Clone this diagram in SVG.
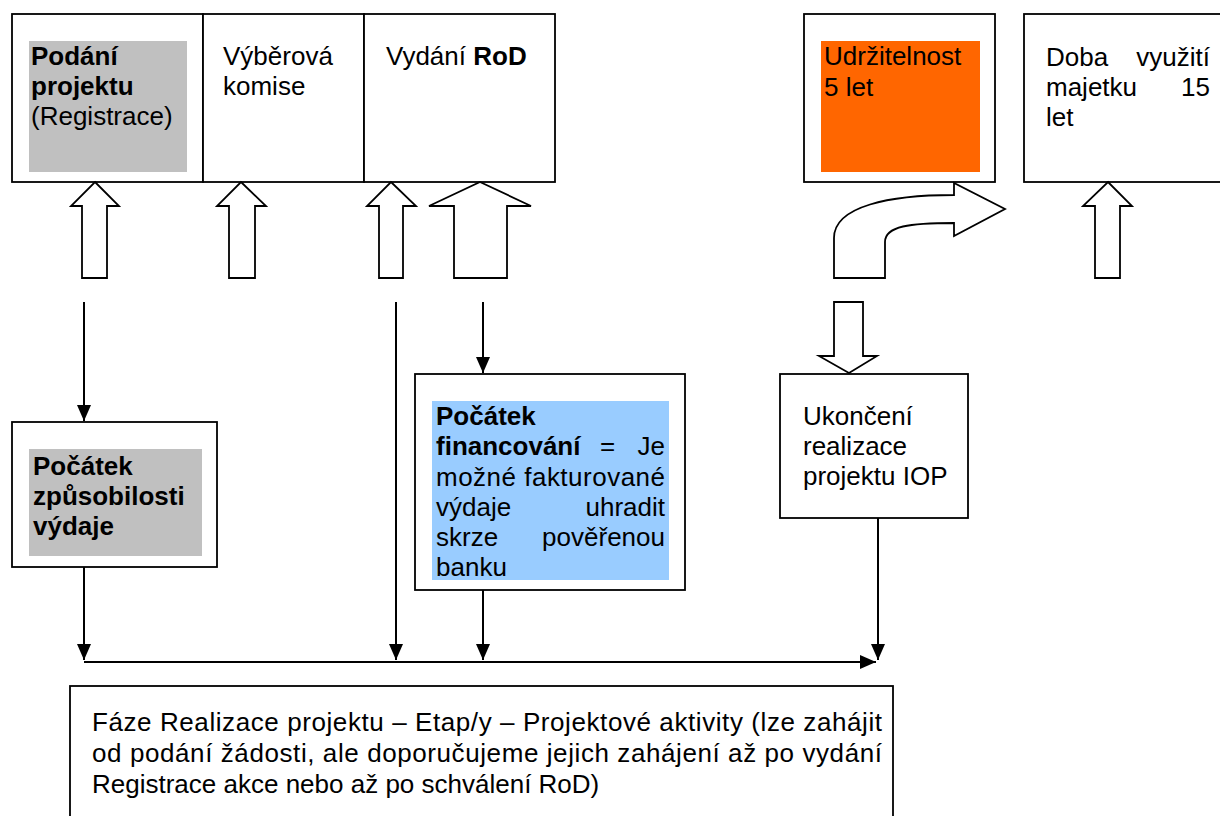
<svg xmlns="http://www.w3.org/2000/svg" width="1220" height="816" viewBox="0 0 1220 816">
<defs>
<style>
.box{fill:#fff;stroke:#000;stroke-width:1.8}
.blk{fill:#fff;stroke:#000;stroke-width:1.8;stroke-linejoin:miter}
.ln{fill:none;stroke:#000;stroke-width:2}
text{font-family:"Liberation Sans",Arial,sans-serif;font-size:26px;fill:#000}
.b{font-weight:bold}
</style>
<marker id="ah" viewBox="0 0 16 14" markerWidth="16" markerHeight="14" refX="16" refY="7" orient="auto" markerUnits="userSpaceOnUse">
<path d="M0,0 L16,7 L0,14 z" fill="#000"/>
</marker>
</defs>

<g id="podani">
<rect class="box" x="12" y="14" width="191" height="168"/>
<rect x="29" y="41" width="158" height="131" fill="#C0C0C0"/>
<text x="31" y="65" class="b">Podání</text>
<text x="31" y="95" class="b">projektu</text>
<text x="31" y="125">(Registrace)</text>
</g>
<g id="vyberova">
<rect class="box" x="203" y="14" width="161" height="168"/>
<text x="223" y="65">Výběrová</text>
<text x="223" y="95">komise</text>
</g>
<g id="vydani">
<rect class="box" x="364" y="14" width="191" height="168"/>
<text x="386" y="65">Vydání <tspan class="b">RoD</tspan></text>
</g>
<g id="udrzitelnost">
<rect class="box" x="804" y="14" width="191" height="168"/>
<rect x="821" y="41" width="159" height="131" fill="#FF6600"/>
<text x="824" y="65">Udržitelnost</text>
<text x="824" y="96">5 let</text>
</g>
<g id="doba">
<rect class="box" x="1024" y="14" width="210" height="168"/>
<text x="1046" y="66">Doba</text>
<text x="1210" y="66" text-anchor="end">využití</text>
<text x="1046" y="96">majetku</text>
<text x="1210" y="96" text-anchor="end">15</text>
<text x="1046" y="126">let</text>
</g>
<g id="pocatek-zpusobilosti">
<rect class="box" x="12" y="422" width="205" height="145"/>
<rect x="29" y="449" width="173" height="107" fill="#C0C0C0"/>
<text x="33" y="475" class="b">Počátek</text>
<text x="33" y="505" class="b">způsobilosti</text>
<text x="33" y="535" class="b">výdaje</text>
</g>
<g id="pocatek-financovani">
<rect class="box" x="415" y="374" width="270" height="216"/>
<rect x="432" y="401" width="237" height="179" fill="#99CCFF"/>
<text x="436" y="425" class="b">Počátek</text>
<text x="436" y="455" class="b">financování</text>
<text x="600" y="455">=</text>
<text x="665" y="455" text-anchor="end">Je</text>
<text x="436" y="486" textLength="229" lengthAdjust="spacing">možné fakturované</text>
<text x="436" y="516">výdaje</text>
<text x="665" y="516" text-anchor="end">uhradit</text>
<text x="436" y="546">skrze</text>
<text x="665" y="546" text-anchor="end">pověřenou</text>
<text x="436" y="576">banku</text>
</g>
<g id="ukonceni">
<rect class="box" x="780" y="374" width="188" height="144"/>
<text x="803" y="425">Ukončení</text>
<text x="803" y="455">realizace</text>
<text x="803" y="485">projektu IOP</text>
</g>
<g id="faze">
<rect class="box" x="70" y="686" width="823" height="150"/>
<text x="92" y="731" textLength="790" lengthAdjust="spacing">Fáze Realizace projektu – Etap/y – Projektové aktivity (lze zahájit</text>
<text x="92" y="762" textLength="790" lengthAdjust="spacing">od podání žádosti, ale doporučujeme jejich zahájení až po vydání</text>
<text x="92" y="793">Registrace akce nebo až po schválení RoD)</text>
</g>

<g id="connectors">
<path class="blk" d="M95,182 L119,206 L107,206 L107,278 L82,278 L82,206 L71,206 Z"/>
<path class="blk" d="M241,182 L266,206 L255,206 L255,278 L229,278 L229,206 L217,206 Z"/>
<path class="blk" d="M391,182 L416,206 L403,206 L403,278 L379,278 L379,206 L367,206 Z"/>
<path class="blk" d="M480,182 L531,206 L507,206 L507,278 L454,278 L454,206 L429,206 Z"/>
<path class="blk" d="M1108,182 L1132,206 L1120,206 L1120,278 L1095,278 L1095,206 L1083,206 Z"/>
<path class="blk" d="M834,302 L863,302 L863,356 L877,356 L849,373 L819,356 L834,356 Z"/>
<path class="blk" d="M834,278 L834,238 C834,206 890,195 954,195 L954,183 L1005,209 L954,236 L954,223 C910,223 885,226 885,242 L885,278 Z"/>
<line class="ln" x1="84" y1="302" x2="84" y2="421" marker-end="url(#ah)"/>
<line class="ln" x1="84" y1="567" x2="84" y2="660" marker-end="url(#ah)"/>
<line class="ln" x1="396" y1="302" x2="396" y2="660" marker-end="url(#ah)"/>
<line class="ln" x1="483" y1="302" x2="483" y2="373" marker-end="url(#ah)"/>
<line class="ln" x1="483" y1="590" x2="483" y2="660" marker-end="url(#ah)"/>
<line class="ln" x1="878" y1="518" x2="878" y2="660" marker-end="url(#ah)"/>
<line class="ln" x1="84" y1="662" x2="876" y2="662" marker-end="url(#ah)"/>
</g>
</svg>
